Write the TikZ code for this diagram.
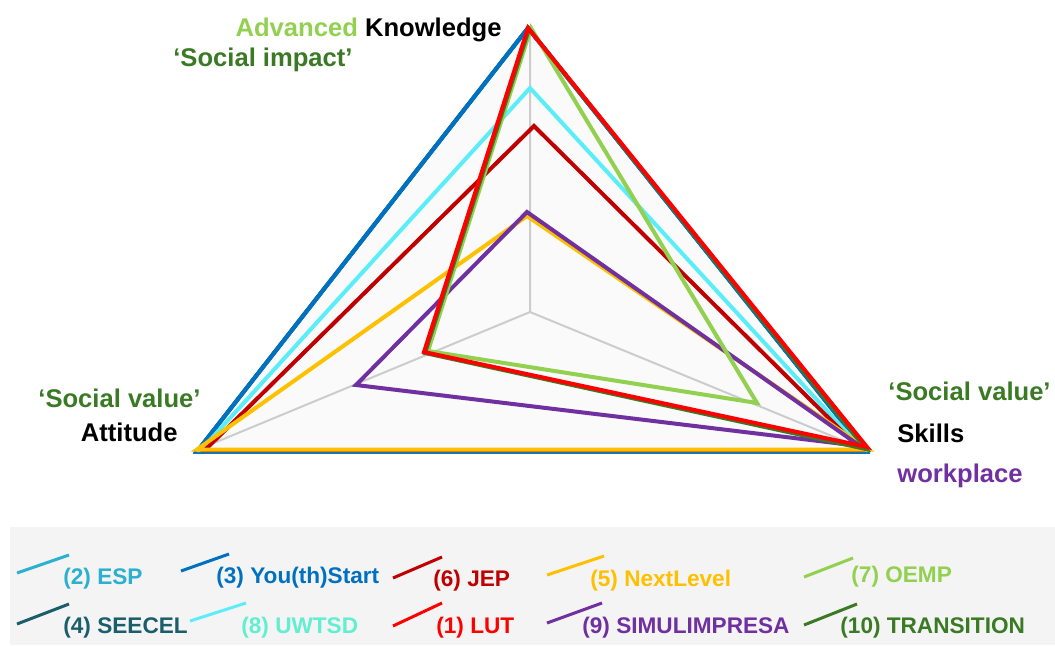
\documentclass[tikz,border=0pt]{standalone}
\usepackage{fontspec}
\setmainfont{Liberation Sans}
\usepackage{tikz}
\usetikzlibrary{positioning}

\definecolor{espblue}{HTML}{2BB0CF}
\definecolor{youthblue}{HTML}{0070C0}
\definecolor{jepred}{HTML}{C00000}
\definecolor{nextyellow}{HTML}{FFC000}
\definecolor{oempgreen}{HTML}{92D050}
\definecolor{seeceteal}{HTML}{1B5E6B}
\definecolor{uwtsdcyan}{HTML}{5CEEF8}
\definecolor{uwtsdtext}{HTML}{60EFD0}
\definecolor{lutred}{HTML}{FF0000}
\definecolor{simulpurple}{HTML}{7030A0}
\definecolor{transgreen}{HTML}{3A7A24}
\definecolor{chartbg}{HTML}{FAFAFA}
\definecolor{gridgray}{HTML}{CCCCCC}
\definecolor{legendbg}{HTML}{F4F4F4}

\begin{document}
\begin{tikzpicture}[x=0.5pt, y=-0.5pt, line join=miter,
    every node/.style={inner sep=0pt},
    axislab/.style={font=\fontsize{12.8}{15}\selectfont\bfseries},
    leglab/.style={font=\fontsize{11.3}{13}\selectfont\bfseries, anchor=base west},
    series/.style={line width=2pt},
    legline/.style={line width=1.5pt}]
    \useasboundingbox (0,0) rectangle (1055,645);

    % chart area and axes
    \coordinate (ctr) at (530,312);
    \coordinate (kn)  at (530,28);
    \coordinate (att) at (197,450);
    \coordinate (sk)  at (866,450);
    \fill[chartbg] (kn) -- (sk) -- (att) -- cycle;
    \draw[gridgray, line width=1pt] (ctr) -- (kn) (ctr) -- (att) (ctr) -- (sk);

    % one triangle per programme
    \draw[series, espblue]     (528,28) -- (866,451.5) -- (197,451.5) -- cycle;
    \draw[series, seeceteal]   (528,28) -- (866,451.5) -- (197,451.5) -- cycle;
    \draw[series, youthblue]   (528,28) -- (866,451.5) -- (197,451.5) -- cycle;
    \draw[series, uwtsdcyan]   (530,88) -- (863,450) -- (201,450) -- cycle;
    \draw[series, jepred]      (534,126) -- (861,450) -- (205,450) -- cycle;
    \draw[series, nextyellow]  (527,216) -- (868,449.5) -- (197,449.5) -- cycle;
    \draw[series, simulpurple] (527,212) -- (860,446) -- (356,385) -- cycle;
    \draw[series, oempgreen]   (531,28) -- (757,403) -- (428,351) -- cycle;
    \draw[series, transgreen]  (529,29) -- (866,449) -- (425,353) -- cycle;
    \draw[series, lutred]      (528,28) -- (867,447) -- (424,352) -- cycle;

    % axis labels
    \node (knlab)  at (502,36)  [axislab, anchor=base east] {\textcolor{oempgreen}{Advanced} Knowledge};
    \node (implab) at (353,66)  [axislab, anchor=base east, transgreen] {‘Social impact’};
    \node (attval) at (201,407) [axislab, anchor=base east, transgreen] {‘Social value’};
    \node (attlab) at (178,441) [axislab, anchor=base east] {Attitude};
    \node (skval)  at (888,400) [axislab, anchor=base west, transgreen] {‘Social value’};
    \node (sklab)  at (897,442) [axislab, anchor=base west] {Skills};
    \node (wplab)  at (897,482) [axislab, anchor=base west, simulpurple] {workplace};

    % legend
    \fill[legendbg] (10,527) rectangle (1055,645);

    \coordinate (l2a) at (17,573);   \coordinate (l2b) at (69,555);
    \coordinate (l3a) at (181,571);  \coordinate (l3b) at (229,554);
    \coordinate (l6a) at (393,578);  \coordinate (l6b) at (442,557);
    \coordinate (l5a) at (547,575);  \coordinate (l5b) at (604,556);
    \coordinate (l7a) at (804,577);  \coordinate (l7b) at (853,558);
    \coordinate (l4a) at (17,624);   \coordinate (l4b) at (69,604);
    \coordinate (l8a) at (190,621);  \coordinate (l8b) at (246,603);
    \coordinate (l1a) at (393,626);  \coordinate (l1b) at (442,603);
    \coordinate (l9a) at (547,623);  \coordinate (l9b) at (602,603);
    \coordinate (l10a) at (804,625); \coordinate (l10b) at (857,604);

    \draw[legline, espblue]     (l2a) -- (l2b);
    \draw[legline, youthblue]   (l3a) -- (l3b);
    \draw[legline, jepred]      (l6a) -- (l6b);
    \draw[legline, nextyellow]  (l5a) -- (l5b);
    \draw[legline, oempgreen]   (l7a) -- (l7b);
    \draw[legline, seeceteal]   (l4a) -- (l4b);
    \draw[legline, uwtsdcyan]   (l8a) -- (l8b);
    \draw[legline, lutred]      (l1a) -- (l1b);
    \draw[legline, simulpurple] (l9a) -- (l9b);
    \draw[legline, transgreen]  (l10a) -- (l10b);

    \node (esp)   at (63,584)  [leglab, espblue] {(2) ESP};
    \node (youth) at (216,583) [leglab, youthblue] {(3) You(th)Start};
    \node (jep)   at (433,586) [leglab, jepred] {(6) JEP};
    \node (next)  at (590,586) [leglab, nextyellow] {(5) NextLevel};
    \node (oemp)  at (851,582) [leglab, oempgreen] {(7) OEMP};
    \node (seec)  at (63,633)  [leglab, seeceteal] {(4) SEECEL};
    \node (uwtsd) at (241,633) [leglab, uwtsdtext] {(8) UWTSD};
    \node (lut)   at (436,633) [leglab, lutred] {(1) LUT};
    \node (simul) at (582,633) [leglab, simulpurple] {(9) SIMULIMPRESA};
    \node (trans) at (840,633) [leglab, transgreen] {(10) TRANSITION};
\end{tikzpicture}
\end{document}
